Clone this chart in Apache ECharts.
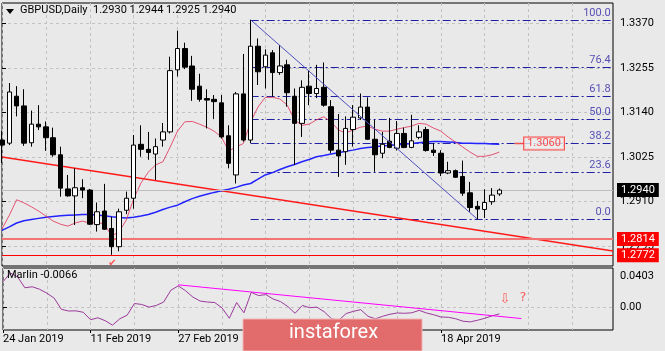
<!DOCTYPE html>
<html>
<head>
<meta charset="utf-8">
<script src="https://cdn.jsdelivr.net/npm/echarts@6/dist/echarts.min.js"></script>
<style>
  html, body { margin: 0; padding: 0; background: #e9e9e9; }
  #chart { width: 665px; height: 351px; }
</style>
</head>
<body>
<div id="chart"></div>
<script>
// GBPUSD daily bars, 24 Jan 2019 .. 30 Apr 2019 (bar index 0..68)
const opens = [1.3069, 1.3061, 1.3182, 1.3157, 1.3062, 1.3110, 1.3103, 1.3075, 1.3031, 1.2943,
  1.2925, 1.2946, 1.2940, 1.2851, 1.2886, 1.2841, 1.2794, 1.2888, 1.2919, 1.3058,
  1.3045, 1.3033, 1.3069, 1.3090, 1.3250, 1.3305, 1.3260, 1.3208, 1.3176, 1.3174,
  1.3165, 1.3080, 1.2979, 1.3188, 1.3069, 1.3311, 1.3258, 1.3294, 1.3243, 1.3263,
  1.3182, 1.3112, 1.3208, 1.3189, 1.3205, 1.3155, 1.3043, 1.3039, 1.3096, 1.3126,
  1.3154, 1.3071, 1.3035, 1.3066, 1.3048, 1.3086, 1.3050, 1.3076, 1.3096, 1.3043,
  1.3035, 1.2984, 1.2990, 1.2975, 1.2933, 1.2898, 1.2890, 1.2910, 1.2930];
const highs = [1.3092, 1.3216, 1.3208, 1.3200, 1.3145, 1.3159, 1.3117, 1.3101, 1.3052, 1.2979,
  1.2996, 1.2968, 1.2943, 1.2908, 1.2956, 1.2871, 1.2892, 1.2936, 1.3082, 1.3107,
  1.3090, 1.3073, 1.3113, 1.3284, 1.3351, 1.3320, 1.3286, 1.3240, 1.3200, 1.3185,
  1.3185, 1.3107, 1.3193, 1.3291, 1.3379, 1.3331, 1.3303, 1.3301, 1.3314, 1.3276,
  1.3202, 1.3223, 1.3248, 1.3263, 1.3269, 1.3172, 1.3136, 1.3130, 1.3159, 1.3189,
  1.3179, 1.3121, 1.3090, 1.3126, 1.3118, 1.3101, 1.3134, 1.3107, 1.3103, 1.3061,
  1.3043, 1.3013, 1.2993, 1.3016, 1.2961, 1.2912, 1.2942, 1.2945, 1.2944];
const lows = [1.3010, 1.3056, 1.3130, 1.3054, 1.3052, 1.3095, 1.3041, 1.3026, 1.2923, 1.2923,
  1.2850, 1.2919, 1.2850, 1.2833, 1.2837, 1.2773, 1.2782, 1.2878, 1.2892, 1.3026,
  1.3018, 1.2966, 1.3052, 1.3086, 1.3233, 1.3252, 1.3170, 1.3168, 1.3099, 1.3123,
  1.3073, 1.2996, 1.2957, 1.3065, 1.3061, 1.3211, 1.3202, 1.3181, 1.3237, 1.3155,
  1.3005, 1.3077, 1.3159, 1.3177, 1.3155, 1.3035, 1.2974, 1.3005, 1.3052, 1.3121,
  1.3069, 1.2987, 1.3022, 1.3048, 1.3042, 1.3048, 1.3048, 1.3071, 1.3039, 1.3028,
  1.2976, 1.2981, 1.2972, 1.2925, 1.2884, 1.2864, 1.2868, 1.2902, 1.2925];
const closes = [1.3056, 1.3193, 1.3157, 1.3061, 1.3110, 1.3103, 1.3075, 1.3031, 1.2945, 1.2925,
  1.2946, 1.2940, 1.2852, 1.2884, 1.2839, 1.2794, 1.2884, 1.2919, 1.3056, 1.3045,
  1.3037, 1.3052, 1.3090, 1.3248, 1.3305, 1.3257, 1.3200, 1.3174, 1.3172, 1.3168,
  1.3077, 1.3009, 1.3188, 1.3069, 1.3311, 1.3245, 1.3288, 1.3243, 1.3260, 1.3191,
  1.3112, 1.3205, 1.3189, 1.3202, 1.3159, 1.3043, 1.3028, 1.3099, 1.3128, 1.3154,
  1.3071, 1.3031, 1.3058, 1.3050, 1.3086, 1.3050, 1.3067, 1.3090, 1.3042, 1.3037,
  1.2984, 1.2990, 1.2973, 1.2932, 1.2895, 1.2891, 1.2908, 1.2927, 1.2940];

// moving averages as drawn on the chart
const maSlow = [1.2836, 1.2845, 1.2855, 1.2861, 1.2864, 1.2867, 1.2870, 1.2872, 1.2874, 1.2875,
  1.2876, 1.2877, 1.2877, 1.2876, 1.2874, 1.2871, 1.2869, 1.2868, 1.2870, 1.2873,
  1.2877, 1.2883, 1.2890, 1.2896, 1.2901, 1.2910, 1.2918, 1.2924, 1.2929, 1.2934,
  1.2938, 1.2942, 1.2947, 1.2953, 1.2957, 1.2968, 1.2979, 1.2985, 1.2993, 1.3000,
  1.3006, 1.3013, 1.3019, 1.3026, 1.3029, 1.3033, 1.3036, 1.3040, 1.3043, 1.3047,
  1.3050, 1.3051, 1.3054, 1.3055, 1.3057, 1.3058, 1.3060, 1.3062, 1.3064, 1.3065,
  1.3065, 1.3064, 1.3063, 1.3061, 1.3061, 1.3060, 1.3060, 1.3059, 1.3058];
const maFast = [1.2840, 1.2875, 1.2915, 1.2907, 1.2897, 1.2886, 1.2873, 1.2860, 1.2852, 1.2847,
  1.2855, 1.2860, 1.2855, 1.2857, 1.2852, 1.2822, 1.2832, 1.2863, 1.2917, 1.2958,
  1.2986, 1.3005, 1.3013, 1.3051, 1.3092, 1.3116, 1.3117, 1.3110, 1.3102, 1.3092,
  1.3077, 1.3041, 1.3051, 1.3060, 1.3116, 1.3154, 1.3179, 1.3179, 1.3175, 1.3159,
  1.3121, 1.3107, 1.3110, 1.3121, 1.3129, 1.3116, 1.3095, 1.3087, 1.3095, 1.3102,
  1.3105, 1.3097, 1.3092, 1.3092, 1.3097, 1.3101, 1.3105, 1.3112, 1.3110, 1.3100,
  1.3092, 1.3077, 1.3064, 1.3051, 1.3038, 1.3027, 1.3027, 1.3031, 1.3038];

// Marlin oscillator
const marlin = [0.0262, 0.0352, 0.0312, 0.0201, 0.0211, 0.0186, 0.0146, 0.0096, -0.0020, -0.0037,
  -0.0035, -0.0050, -0.0126, -0.0106, -0.0136, -0.0181, -0.0116, -0.0080, 0.0040, 0.0030,
  0.0003, 0.0020, 0.0055, 0.0176, 0.0221, 0.0171, 0.0106, 0.0065, 0.0055, 0.0050,
  -0.0005, -0.0111, 0.0050, -0.0055, 0.0154, 0.0121, 0.0131, 0.0086, 0.0060, 0.0010,
  -0.0060, 0.0020, -0.0003, 0.0003, -0.0045, -0.0116, -0.0131, -0.0063, -0.0040, -0.0023,
  -0.0091, -0.0116, -0.0091, -0.0070, -0.0057, -0.0060, -0.0055, -0.0030, -0.0057, -0.0075,
  -0.0098, -0.0101, -0.0116, -0.0141, -0.0148, -0.0131, -0.0111, -0.0086, -0.0066];

// axis ticks and labels
const X_MAX = 83.55;
const priceTicks = [1.2795, 1.2910, 1.3025, 1.3140, 1.3255, 1.3370];
const marlinTicks = [-0.0231, 0, 0.0403];
const gridCols = [0, 6, 12, 18, 24, 30, 36, 42, 48, 54, 60, 66, 72, 78];
const dateTickIdx = [0, 12, 24, 36, 48, 60];
const dateLabels = ['24 Jan 2019', '11 Feb 2019', '27 Feb 2019', '15 Mar 2019', '2 Apr 2019', '18 Apr 2019'];

// drawing objects
const fibRatios = [0, 23.6, 38.2, 50, 61.8, 76.4, 100];
const fibHigh = [34, 1.3379];
const fibLow = [65, 1.2865];
const redTrend = [[0, 1.3025], [X_MAX, 1.2783]];
const marlinTrend = [[24, 0.0231], [71, -0.0114]];
const supportLevels = [1.2814, 1.2772];
const bidPrice = 1.2940;
const targetPrice = 1.3060;

const font = 'Roboto, "Liberation Sans", sans-serif';
const gridDash = { color: '#c2c2c2', type: [3, 3], width: 1 };

const fibLevel = r => fibLow[1] + (fibHigh[1] - fibLow[1]) * r / 100;

const priceLabel = (text, bg) => ({
  position: 'end', distance: 4, formatter: text, color: '#fff', backgroundColor: bg,
  padding: [2, 4, 1, 4], fontSize: 11, fontFamily: font
});

const chart = echarts.init(document.getElementById('chart'));

chart.setOption({
  animation: false,
  backgroundColor: '#e9e9e9',
  textStyle: { fontFamily: font },
  grid: [
    { left: 2, top: 3, width: 611, height: 263, show: true, borderColor: '#000', borderWidth: 1, backgroundColor: '#e9e9e9' },
    { left: 2, top: 268, width: 611, height: 62, show: true, borderColor: '#000', borderWidth: 1, backgroundColor: '#e9e9e9' }
  ],
  xAxis: [
    {
      type: 'value', gridIndex: 0, min: 0, max: X_MAX,
      axisLine: { show: false }, axisLabel: { show: false },
      axisTick: { show: false, customValues: gridCols },
      splitLine: { show: true, lineStyle: gridDash }
    },
    {
      type: 'value', gridIndex: 1, min: 0, max: X_MAX, position: 'bottom',
      axisLine: { show: false },
      axisTick: { show: false, customValues: gridCols },
      splitLine: { show: true, lineStyle: gridDash },
      axisLabel: {
        customValues: dateTickIdx, align: 'left', margin: 4,
        color: '#000', fontSize: 11, fontFamily: font,
        formatter: v => dateLabels[dateTickIdx.indexOf(v)] || ''
      }
    },
    {
      type: 'value', gridIndex: 1, min: 0, max: X_MAX, position: 'bottom',
      axisLine: { show: false }, axisLabel: { show: false }, splitLine: { show: false },
      axisTick: { show: true, length: 3, customValues: dateTickIdx, lineStyle: { color: '#000' } }
    }
  ],
  yAxis: [
    {
      type: 'value', gridIndex: 0, position: 'right', min: 1.27442, max: 1.34224,
      axisLine: { show: false },
      axisTick: { show: true, length: 4, customValues: priceTicks, lineStyle: { color: '#000' } },
      axisLabel: {
        customValues: priceTicks, margin: 7, color: '#000', fontSize: 11, fontFamily: font,
        formatter: v => v.toFixed(4)
      },
      splitLine: { show: true, lineStyle: gridDash }
    },
    {
      type: 'value', gridIndex: 1, position: 'right', min: -0.0231, max: 0.0403,
      axisLine: { show: false },
      axisTick: { show: true, length: 4, customValues: [0], lineStyle: { color: '#000' } },
      axisLabel: {
        customValues: marlinTicks, margin: 7, color: '#000', fontSize: 11, fontFamily: font,
        lineHeight: 16,
        formatter: v => v === 0 ? '0.00' : (v > 0 ? '\n' + v.toFixed(4) : v.toFixed(4) + '\n')
      },
      splitLine: { show: true, lineStyle: gridDash }
    }
  ],
  graphic: [
    { type: 'polygon', shape: { points: [[6, 9], [14, 9], [10, 14]] }, style: { fill: '#000' }, z: 100 },
    {
      type: 'text', left: 20, top: 5, z: 100,
      style: { text: 'GBPUSD,Daily  1.2930 1.2944 1.2925 1.2940', fill: '#000', font: '11px ' + font }
    },
    {
      type: 'text', left: 7, top: 270, z: 100,
      style: { text: 'Marlin -0.0066', fill: '#000', font: '11px ' + font }
    },
    // watermark, on its own layer above the chart
    {
      type: 'rect', zlevel: 5, z: 1,
      shape: { x: 243, y: 319, width: 179, height: 32 },
      style: { fill: '#e26b6b', stroke: '#f3b5b5', lineWidth: 1 }
    },
    {
      type: 'text', zlevel: 5, z: 2, x: 289, y: 323,
      style: { text: 'instaforex', fill: '#fff', font: '20px ' + font }
    }
  ],
  series: [
    {
      type: 'candlestick', xAxisIndex: 0, yAxisIndex: 0, barWidth: 5,
      data: opens.map((o, i) => [i, o, closes[i], lows[i], highs[i]]),
      encode: { x: 0, y: [1, 2, 3, 4] },
      itemStyle: { color: '#ffffff', color0: '#000000', borderColor: '#000000', borderColor0: '#000000', borderWidth: 1 },
      z: 5
    },
    {
      type: 'line', xAxisIndex: 0, yAxisIndex: 0, symbol: 'none',
      data: maSlow.map((v, i) => [i, v]),
      lineStyle: { color: '#2323ff', width: 1.5 }, z: 4
    },
    {
      type: 'line', xAxisIndex: 0, yAxisIndex: 0, symbol: 'none',
      data: maFast.map((v, i) => [i, v]),
      lineStyle: { color: '#e23a5e', width: 1, opacity: 0.85 }, z: 4
    },
    {
      // fibonacci retracement levels, snapped to whole pixels so the dash-dot stays crisp
      type: 'custom', xAxisIndex: 0, yAxisIndex: 0, silent: true, z: 3,
      data: fibRatios.map(r => [fibHigh[0], fibLevel(r), X_MAX]),
      encode: { x: [0, 2], y: 1 },
      renderItem: (params, api) => {
        const a = api.coord([api.value(0), api.value(1)]);
        const b = api.coord([api.value(2), api.value(1)]);
        const y = Math.round(a[1]) + 0.5;
        return {
          type: 'line',
          shape: { x1: a[0], y1: y, x2: b[0], y2: y },
          style: { stroke: '#2020a0', lineWidth: 1, lineDash: [8, 3, 2, 3] }
        };
      }
    },
    {
      type: 'line', xAxisIndex: 0, yAxisIndex: 0, symbol: 'none',
      data: [fibHigh, fibLow],
      lineStyle: { color: '#5050c0', width: 1 }, z: 6
    },
    {
      type: 'line', xAxisIndex: 0, yAxisIndex: 0, symbol: 'none',
      data: redTrend,
      lineStyle: { color: '#ff1a1a', width: 1.5 }, z: 3,
      markLine: {
        silent: true, symbol: 'none', precision: 4,
        data: [
          { yAxis: supportLevels[0], lineStyle: { color: '#f27474', width: 2, type: 'solid' }, label: priceLabel(supportLevels[0].toFixed(4), '#ff0000') },
          { yAxis: supportLevels[1], lineStyle: { color: '#ff0000', width: 1, type: 'solid' }, label: priceLabel(supportLevels[1].toFixed(4), '#ff0000') },
          { yAxis: bidPrice, lineStyle: { color: '#bdbdbd', width: 1, type: 'solid' }, label: priceLabel(bidPrice.toFixed(4), '#000000') }
        ]
      }
    },
    {
      type: 'line', xAxisIndex: 0, yAxisIndex: 0, symbol: 'none',
      data: [[70.1, targetPrice], [71.4, targetPrice]],
      lineStyle: { color: '#f05050', width: 1.5 }, z: 7
    },
    {
      type: 'scatter', xAxisIndex: 0, yAxisIndex: 0, symbolSize: 0, silent: true,
      data: [[71.4, targetPrice]], z: 8,
      label: {
        show: true, position: 'right', distance: 0, formatter: targetPrice.toFixed(4),
        color: '#ff2020', fontSize: 11, fontFamily: font,
        backgroundColor: '#ececec', borderColor: '#ff2020', borderWidth: 1, padding: [1, 3, 0, 3]
      }
    },
    {
      type: 'scatter', xAxisIndex: 0, yAxisIndex: 0, symbolSize: 0, silent: true,
      data: fibRatios.map(r => [83.25, fibLevel(r), r]), z: 8,
      label: {
        show: true, position: 'left', distance: 0, offset: [0, -7],
        formatter: p => p.value[2].toFixed(1), color: '#3128a6', fontSize: 11, fontFamily: font
      }
    },
    {
      type: 'scatter', xAxisIndex: 0, yAxisIndex: 0, symbolSize: 0, silent: true,
      data: [[15.1, 1.2752]], z: 8,
      label: { show: true, position: 'inside', formatter: '\u2714', color: '#ff3030', fontSize: 10, fontFamily: '"DejaVu Sans"' }
    },
    {
      type: 'line', xAxisIndex: 1, yAxisIndex: 1, symbol: 'none',
      data: marlin.map((v, i) => [i, v]),
      lineStyle: { color: '#9b3a9b', width: 1 }, z: 4
    },
    {
      type: 'line', xAxisIndex: 1, yAxisIndex: 1, symbol: 'none',
      data: marlinTrend,
      lineStyle: { color: '#ff00ff', width: 1 }, z: 5
    },
    {
      type: 'scatter', xAxisIndex: 1, yAxisIndex: 1, symbolSize: 0, silent: true, z: 8,
      data: [[68.75, 0.0077, '\u21e9'], [71.2, 0.0103, '?']],
      label: { show: true, position: 'inside', formatter: p => p.value[2], color: '#ff3b3b', fontSize: 13, fontFamily: '"DejaVu Sans"' }
    }
  ]
});
</script>
</body>
</html>
